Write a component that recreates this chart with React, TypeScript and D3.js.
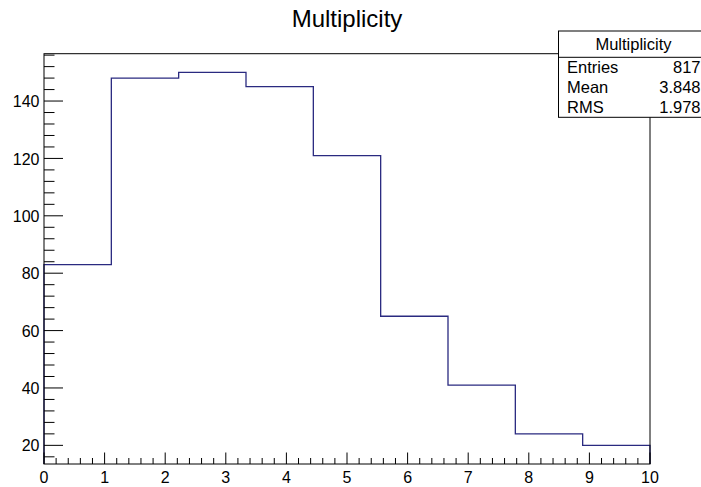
import React from 'react';
import * as d3 from 'd3';

// histogram bins (9 equal bins on [0, 10])
const binContents = [83, 148, 150, 145, 121, 65, 41, 24, 20];
const xRange = [0, 10];
const yRange = [13.5, 156.5];
const xMajorTicks = [0, 1, 2, 3, 4, 5, 6, 7, 8, 9, 10];
const yMajorTicks = [20, 40, 60, 80, 100, 120, 140];
const title = 'Multiplicity';
const statsRows = [
  ['Entries', '817'],
  ['Mean', '3.848'],
  ['RMS', '1.978'],
];

const W = 701;
const H = 487;
const frame = { left: 44, right: 650, top: 53.7, bottom: 464 };
const font = '"Liberation Sans", Arial, Helvetica, sans-serif';
const lineColor = '#2a2a80';

const App = () => {
  const x = d3.scaleLinear().domain(xRange).range([frame.left, frame.right]);
  const y = d3.scaleLinear().domain(yRange).range([frame.bottom, frame.top]);

  const binWidth = (xRange[1] - xRange[0]) / binContents.length;
  const pts: [number, number][] = [[xRange[0], yRange[0]]];
  binContents.forEach((v, i) => {
    pts.push([xRange[0] + i * binWidth, v]);
    pts.push([xRange[0] + (i + 1) * binWidth, v]);
  });
  pts.push([xRange[1], yRange[0]]);
  const histPath = d3.line<[number, number]>()
    .x((d) => x(d[0]))
    .y((d) => y(d[1]))(pts);

  // minor ticks: 5 divisions per unit on x, every 4 on y
  const xMinor = d3.range(0, 51).map((i) => xRange[0] + i * 0.2)
    .filter((v) => Math.abs(v - Math.round(v)) > 1e-6);
  const yMinor = d3.range(16, yRange[1], 4).filter((v) => v % 20 !== 0);

  const box = { left: 558.5, right: 708, top: 31, header: 57.3, bottom: 117.3 };

  return (
    <svg width={W} height={H} style={{ display: 'block', background: '#fff' }}>
      <style>{`body{margin:0}`}</style>
      <rect x={0} y={0} width={W} height={H} fill="#fff" />

      <text x={347} y={27} textAnchor="middle" fontFamily={font} fontSize={24} fill="#000">
        {title}
      </text>

      {/* histogram */}
      <path d={histPath ?? ''} fill="none" stroke={lineColor} strokeWidth={1.3} />

      {/* frame */}
      <rect x={frame.left} y={frame.top} width={frame.right - frame.left} height={frame.bottom - frame.top}
        fill="none" stroke="#000" strokeWidth={1} />

      {/* x axis ticks */}
      {xMajorTicks.map((t) => (
        <g key={'xm' + t}>
          <line x1={x(t)} x2={x(t)} y1={frame.bottom} y2={frame.bottom - 11.5} stroke="#000" />
          <text x={x(t)} y={482.5} textAnchor="middle" fontFamily={font} fontSize={16} fill="#000">{t}</text>
        </g>
      ))}
      {xMinor.map((t, i) => (
        <line key={'xn' + i} x1={x(t)} x2={x(t)} y1={frame.bottom} y2={frame.bottom - 6} stroke="#000" />
      ))}

      {/* y axis ticks */}
      {yMajorTicks.map((t) => (
        <g key={'ym' + t}>
          <line x1={frame.left} x2={frame.left + 19} y1={y(t)} y2={y(t)} stroke="#000" />
          <text x={39.5} y={y(t)} dy="0.38em" textAnchor="end" fontFamily={font} fontSize={16} fill="#000">{t}</text>
        </g>
      ))}
      {yMinor.map((t) => (
        <line key={'yn' + t} x1={frame.left} x2={frame.left + 10.5} y1={y(t)} y2={y(t)} stroke="#000" />
      ))}

      {/* stats box */}
      <rect x={box.left} y={box.top} width={box.right - box.left} height={box.bottom - box.top}
        fill="#fff" stroke="#000" strokeWidth={1} />
      <line x1={box.left} x2={box.right} y1={box.header} y2={box.header} stroke="#000" />
      <text x={633.5} y={50} textAnchor="middle" fontFamily={font} fontSize={16.5} fill="#000">
        {title}
      </text>
      {statsRows.map((r, i) => (
        <g key={r[0]}>
          <text x={567} y={72.5 + i * 20} fontFamily={font} fontSize={16.5} fill="#000">{r[0]}</text>
          <text x={700.5} y={72.5 + i * 20} textAnchor="end" fontFamily={font} fontSize={16.5} fill="#000">{r[1]}</text>
        </g>
      ))}
    </svg>
  );
};

export default App;
